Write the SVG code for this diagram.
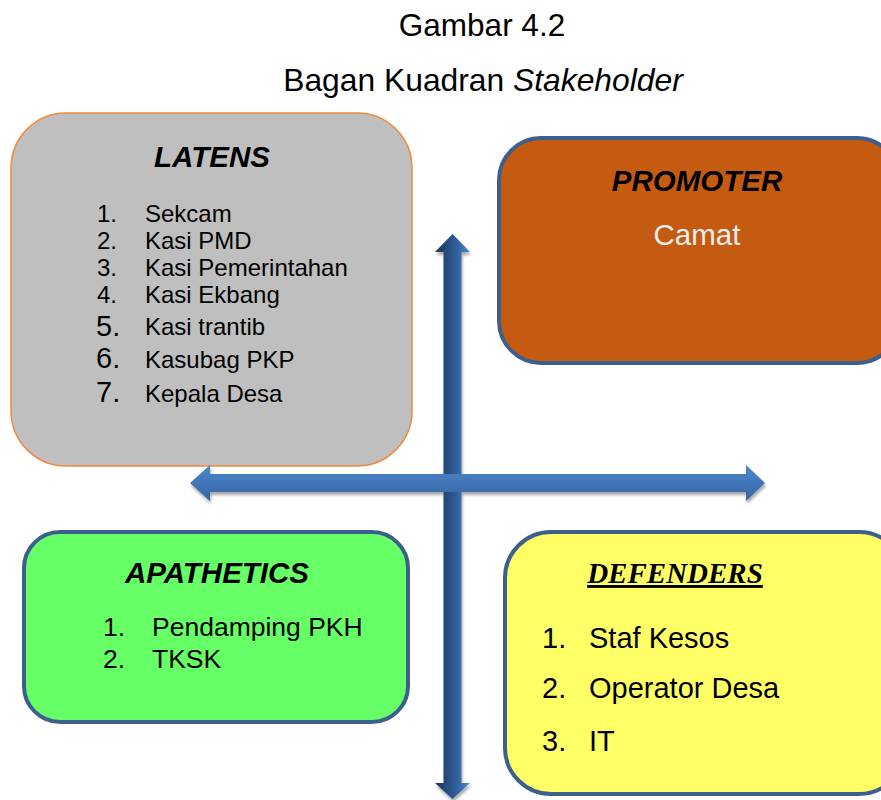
<svg xmlns="http://www.w3.org/2000/svg" width="881" height="800" viewBox="0 0 881 800">
<style>
text{font-family:"Liberation Sans",Arial,sans-serif;fill:#000}
.t{font-size:29.5px;font-weight:bold;font-style:italic}
.li{font-size:24px}
.lb{font-size:29px}
.node{stroke:#3c5f8e;stroke-width:4}
</style>
<defs>
<linearGradient id="gv" x1="0" y1="0" x2="1" y2="0">
<stop offset="0" stop-color="#1c3557"/><stop offset="0.6" stop-color="#2f5d98"/><stop offset="1" stop-color="#4f8ad0"/>
</linearGradient>
<linearGradient id="gh" x1="0" y1="0" x2="0" y2="1">
<stop offset="0" stop-color="#4d88cc"/><stop offset="1" stop-color="#3563a2"/>
</linearGradient>
<filter id="sh" x="-20%" y="-20%" width="140%" height="140%">
<feGaussianBlur in="SourceAlpha" stdDeviation="1.5"/><feOffset dx="1" dy="3"/>
<feComponentTransfer><feFuncA type="linear" slope="0.35"/></feComponentTransfer>
<feMerge><feMergeNode/><feMergeNode in="SourceGraphic"/></feMerge>
</filter>
</defs>
<rect width="881" height="800" fill="#fff"/>
<text x="482" y="36" font-size="31.5" text-anchor="middle">Gambar 4.2</text>
<text x="483" y="91" font-size="31.8" text-anchor="middle">Bagan Kuadran <tspan font-style="italic">Stakeholder</tspan></text>

<g id="latens">
<rect x="11" y="113" width="401" height="353" rx="55" fill="#bfbfbf" stroke="#f08a3c" stroke-width="1.5"/>
<text class="t" x="212" y="167" text-anchor="middle">LATENS</text>
<text class="li" x="97" y="222">1.</text><text class="li" x="145" y="222">Sekcam</text>
<text class="li" x="97" y="249">2.</text><text class="li" x="145" y="249">Kasi PMD</text>
<text class="li" x="97" y="276">3.</text><text class="li" x="145" y="276">Kasi Pemerintahan</text>
<text class="li" x="97" y="303">4.</text><text class="li" x="145" y="303">Kasi Ekbang</text>
<text class="lb" x="96" y="336">5.</text><text class="li" x="145" y="335">Kasi trantib</text>
<text class="lb" x="96" y="368">6.</text><text class="li" x="145" y="368">Kasubag PKP</text>
<text class="lb" x="96" y="402">7.</text><text class="li" x="145" y="402">Kepala Desa</text>
</g>

<g id="promoter">
<rect class="node" x="499" y="138" width="400" height="225" rx="42" fill="#c55a11"/>
<text class="t" x="697" y="191" text-anchor="middle">PROMOTER</text>
<text x="697" y="245" font-size="29.5" text-anchor="middle" style="fill:#eeeeee">Camat</text>
</g>

<g id="apathetics">
<rect class="node" x="24" y="532" width="384" height="190" rx="36" fill="#66ff66"/>
<text class="t" x="217" y="583" text-anchor="middle">APATHETICS</text>
<text x="103" y="636" font-size="26.5">1.</text><text x="152" y="636" font-size="26.5">Pendamping PKH</text>
<text x="103" y="668" font-size="26.5">2.</text><text x="152" y="668" font-size="26.5">TKSK</text>
</g>

<g id="defenders">
<rect class="node" x="505" y="532" width="400" height="262" rx="46" fill="#ffff66"/>
<text x="675" y="583" font-size="29" font-weight="bold" font-style="italic" text-anchor="middle" text-decoration="underline" style="font-family:'Liberation Serif','Times New Roman',serif">DEFENDERS</text>
<text class="lb" x="542" y="648">1.</text><text class="lb" x="589" y="648">Staf Kesos</text>
<text class="lb" x="542" y="698">2.</text><text class="lb" x="589" y="698">Operator Desa</text>
<text class="lb" x="542" y="751">3.</text><text class="lb" x="589" y="751">IT</text>
</g>

<g id="connectors" filter="url(#sh)">
<polygon points="452.5,234 470,252 461.5,252 461.5,783 470,783 452.5,799 435,783 443.5,783 443.5,252 435,252" fill="url(#gv)"/>
<polygon points="190,483 210,465 210,474 746,474 746,465 765,483 746,501 746,492 210,492 210,501" fill="url(#gh)"/>
</g>
</svg>
